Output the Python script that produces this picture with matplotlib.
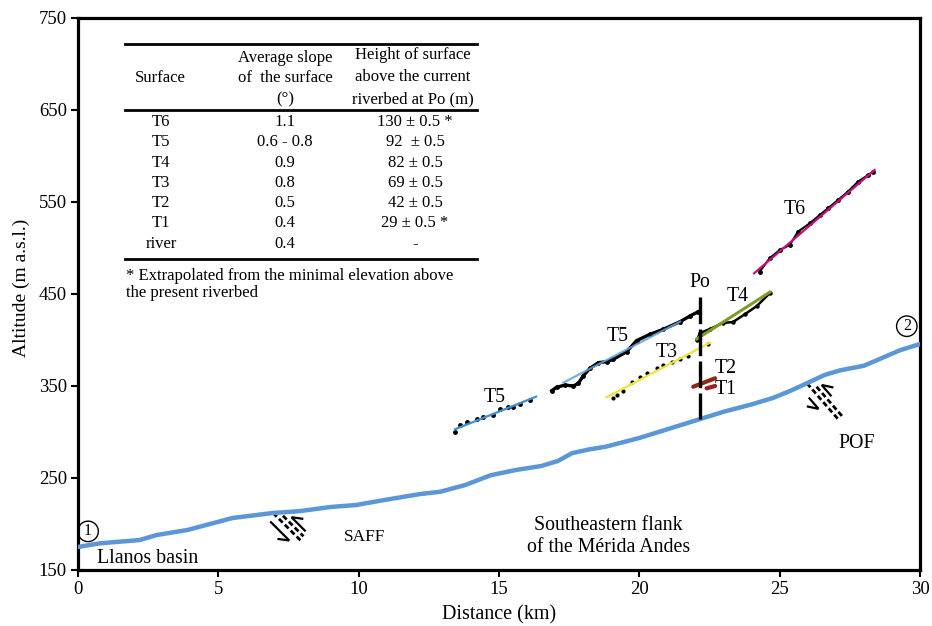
import numpy as np
import matplotlib
matplotlib.use("Agg")
import matplotlib.pyplot as plt
from matplotlib.lines import Line2D

plt.rcParams['font.family'] = ['Liberation Serif', 'DejaVu Serif']

# river longitudinal profile (km, m a.s.l.)
river_km = [0, 0.78, 2.2, 2.8, 3.9, 4.95, 5.5, 6.95, 7.9, 9.0, 9.9, 10.9, 12.2, 12.9,
            13.8, 14.7, 15.6, 16.5, 17.1, 17.6, 18.2, 18.8, 20.0, 21.0, 22.16, 23.0, 24.0, 24.76,
            25.4, 25.97, 26.6, 27.15, 28.0, 28.46, 29.3, 30.0]
river_alt = [175, 179, 182.6, 188, 193.5, 202, 206.5, 212, 214, 218.5, 220.6, 226, 232.6, 235,
             242.4, 253, 258.7, 263, 268.5, 277, 281, 284, 293.5, 303, 314, 322, 330, 337,
             345, 353, 362, 367, 372, 378, 389, 395.6]

# terrace profile points
t5a_km = [13.43, 13.61, 13.85, 14.21, 14.44, 14.80, 15.04, 15.33, 15.51, 15.75, 16.10]
t5a_alt = [300.3, 307.6, 311.2, 314.1, 316, 318.5, 324.7, 327.5, 326.8, 330.1, 334.8]
t5a_fit = ([13.43, 16.32], [302.9, 338.4])

t5b_km = [16.88, 17.05, 17.35, 17.65, 17.83, 18.0, 18.24, 18.54, 18.84, 19.07, 19.55,
          19.9, 20.38, 20.85, 21.45, 21.8, 22.1]
t5b_alt = [344.9, 348.6, 351, 350, 353, 360.9, 369.2, 375.4, 376.4, 379, 387.3,
           399.3, 406.2, 411.6, 419.9, 426, 430.8]
t5b_fit = ([17.29, 21.45], [353.6, 419.9])

t3_km = [19.05, 19.19, 19.43, 19.73, 20.02, 20.26, 20.62, 20.85, 21.15, 21.45, 21.74, 22.45]
t3_alt = [336.6, 340.2, 344.9, 354.7, 360.1, 364.5, 369.2, 372.8, 376.4, 379, 382.6, 396]
t3_fit = ([18.83, 22.52], [337.7, 397])

t4_km = [22.05, 22.16, 22.52, 22.98, 23.34, 23.76, 24.19, 24.65]
t4_alt = [400, 407.6, 412, 418.5, 419.6, 428, 437, 451]
t4_fit = ([22.04, 24.65], [401, 452])

t2_fit = ([21.92, 22.7], [349.2, 358.4])
t1_fit = ([22.4, 22.7], [347.5, 350])

t6_km = [24.29, 24.64, 25.0, 25.36, 25.65, 26.07, 26.43, 26.72, 27.08, 27.43, 27.79, 28.15, 28.33]
t6_alt = [474.3, 488.8, 497.8, 503.3, 517.7, 526.8, 535.9, 543.2, 552.2, 561.2, 572.1, 579.3, 583]
t6_fit = ([24.09, 28.38], [472.5, 584.8])

po_km = 22.16
po_top = 447

# table
surfaces = ['T6', 'T5', 'T4', 'T3', 'T2', 'T1', 'river']
slopes = ['1.1', '0.6 - 0.8', '0.9', '0.8', '0.5', '0.4', '0.4']
heights = ['130 \u00b1 0.5 *', '92  \u00b1 0.5', '82 \u00b1 0.5', '69 \u00b1 0.5',
           '42 \u00b1 0.5', '29 \u00b1 0.5 *', '-']

W, H = 932, 626
fig = plt.figure(figsize=(W / 100, H / 100), dpi=100)
ax = fig.add_axes([78 / W, 56 / H, 842 / W, 552 / H])

ax.plot(river_km, river_alt, color='#5b96d6', lw=3.2, solid_capstyle='round',
        solid_joinstyle='round', zorder=3)

# terraces
ax.plot(t5a_km, t5a_alt, 'o', color='black', ms=2.5, zorder=3)
ax.plot(*t5a_fit, color='#3d8fd1', lw=1.6, zorder=4)
ax.plot(t5b_km, t5b_alt, '-o', color='black', lw=2.4, ms=2.5, zorder=3)
ax.plot(*t5b_fit, color='#5fa2dc', lw=1.6, alpha=0.85, zorder=4)
ax.plot(t3_km, t3_alt, 'o', color='black', ms=2, zorder=3)
ax.plot(*t3_fit, color='#ece437', lw=1.6, zorder=4)
ax.plot(t4_km, t4_alt, '-o', color='black', lw=1.8, ms=2.2, zorder=3)
ax.plot(*t4_fit, color='#7d9c22', lw=2.2, zorder=4)
ax.plot(*t2_fit, color='#8d2a16', lw=3, solid_capstyle='round', zorder=4)
ax.plot(*t1_fit, color='#a01b1b', lw=3, solid_capstyle='round', zorder=4)
ax.plot(t6_km, t6_alt, '-o', color='black', lw=1.5, ms=2.5, zorder=3)
ax.plot(*t6_fit, color='#c4127a', lw=1.6, zorder=4)

# Po vertical
ri = np.interp(po_km, river_km, river_alt)
ax.plot([po_km, po_km], [po_top, ri], color='black', lw=2.4, linestyle=(0, (8, 1.6)), zorder=5)

ax.set_xlim(0, 30)
ax.set_ylim(150, 750)


def fault(km, slant, length, left, right):
    # fault symbol drawn in pixel offsets (along u, across v) from the river point
    alt = np.interp(km, river_km, river_alt)
    o = np.array(ax.transData.transform((km, alt)))
    u = np.array([slant[0], -slant[1]], dtype=float)
    u /= np.hypot(*u)
    v = np.array([-u[1], u[0]])
    if v[1] < 0:
        v = -v
    tr = matplotlib.transforms.IdentityTransform()

    def seg(a, b, **kw):
        ax.add_line(Line2D([a[0], b[0]], [a[1], b[1]], transform=tr, color='black',
                           solid_capstyle='butt', **kw))

    dash = dict(lw=2, linestyle=(0, (1.9, 1.1)))
    seg(o, o + u * length, **dash)
    seg(o + u * 9 + v * 5, o + u * (length - 2) + v * 5, **dash)
    a, b = o + u * left[0] - v * 8, o + u * left[1] - v * 8
    seg(a, b, lw=1.6)
    seg(b, b - (u * 0.8 + v * 0.6) * 12, lw=1.6)
    a, b = o + u * right[0] + v * 10, o + u * right[1] + v * 10
    seg(a, b, lw=1.6)
    seg(a, a + (u * 0.8 + v * 0.6) * 12, lw=1.6)


fault(6.95, (1, 1), 40, (4, 31), (16, 36))
fault(25.97, (33, 38), 50, (12, 27), (11, 26))

ax.set_xticks(np.arange(0, 31, 5))
ax.set_yticks(np.arange(150, 751, 100))
ax.tick_params(direction='out', length=5, width=1.5, labelsize=13.5, pad=3)
for s in ax.spines.values():
    s.set_linewidth(2.3)

lab = dict(fontsize=14.3, ha='center', va='center')
ax.text(25.55, 542, 'T6', **lab)
ax.text(23.5, 447, 'T4', **lab)
ax.text(22.16, 463, 'Po', **lab)
ax.text(19.24, 404, 'T5', **lab)
ax.text(20.98, 386, 'T3', **lab)
ax.text(23.08, 368.5, 'T2', **lab)
ax.text(23.08, 346.7, 'T1', **lab)
ax.text(14.86, 338, 'T5', **lab)
ax.text(27.75, 288, 'POF', **lab)
ax.text(10.2, 186, 'SAFF', fontsize=12.4, ha='center', va='center')
ax.text(0.68, 163, 'Llanos basin', fontsize=14.3, ha='left', va='center')
ax.text(18.9, 186, 'Southeastern flank\nof the M\u00e9rida Andes', fontsize=14.3,
        ha='center', va='center', linespacing=1.2)
circ = dict(boxstyle='circle,pad=0.14', fc='none', ec='black', lw=1.0)
ax.text(0.36, 192, '1', fontsize=11.5, ha='center', va='center', bbox=circ)
ax.text(29.53, 415, '2', fontsize=11.5, ha='center', va='center', bbox=circ)

fig.text(499 / W, 1 - 615 / H, 'Distance (km)', fontsize=14.5, ha='center', va='center')
fig.text(21 / W, 1 - 288 / H, 'Altitude (m a.s.l.)', fontsize=14, ha='center',
         va='center', rotation=90)


# table drawn in pixel positions
def ftxt(x, y, s, ha='center', **kw):
    fig.text(x / W, 1 - y / H, s, ha=ha, va='center', fontsize=12, **kw)


for yy in (44, 109.5, 258.5):
    fig.add_artist(Line2D([125 / W, 477 / W], [1 - yy / H, 1 - yy / H], color='black', lw=2))
ftxt(160, 78, 'Surface')
ftxt(285, 58, 'Average slope')
ftxt(285, 78, 'of  the surface')
ftxt(285, 99, '(\u00b0)')
ftxt(413, 55, 'Height of surface')
ftxt(413, 77, 'above the current')
ftxt(413, 99, 'riverbed at Po (m)')
rows_y = [122, 142, 163, 183, 203, 223, 244]
for yy, s, sl, hh in zip(rows_y, surfaces, slopes, heights):
    ftxt(161, yy, s)
    ftxt(285, yy, sl)
    ftxt(415, yy, hh)
ftxt(126, 276, '* Extrapolated from the minimal elevation above', ha='left')
ftxt(126, 293, 'the present riverbed', ha='left')

fig.savefig('out.png', dpi=100)
